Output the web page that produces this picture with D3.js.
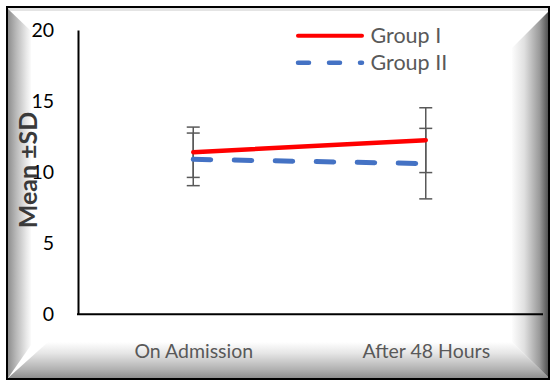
<!DOCTYPE html>
<html><head><meta charset="utf-8">
<script src="https://cdn.jsdelivr.net/npm/d3@7"></script>
<style>html,body{margin:0;padding:0;background:#fff;}svg{display:block;}</style>
</head><body>
<script>
const categories = ["On Admission", "After 48 Hours"];
const seriesNames = ["Group I", "Group II"];
const groupIMean = [11.4, 12.25];
const groupISD = [1.77, 2.28];
const groupIIMean = [10.9, 10.6];
const groupIISD = [1.85, 2.48];
const yTicks = [0, 5, 10, 15, 20];
const yTitle = "Mean \u00b1SD";

const W = 552, H = 381;
const svg = d3.select("body").append("svg").attr("width", W).attr("height", H);
const defs = svg.append("defs");

function lg(id, x1, y1, x2, y2, stops) {
  const g = defs.append("linearGradient").attr("id", id)
    .attr("gradientUnits", "userSpaceOnUse")
    .attr("x1", x1).attr("y1", y1).attr("x2", x2).attr("y2", y2);
  stops.forEach(s => g.append("stop").attr("offset", s[0]).attr("stop-color", s[1]));
}
// frame / bevel
lg("gl", 8, 0, 31, 0, [[0, "#8e8e8e"], [0.35, "#b8b8b8"], [0.8, "#e8e8e8"], [1, "#fbfbfb"]]);
lg("gb", 0, 342, 0, 379, [[0, "#ffffff"], [0.3, "#e6e6e6"], [0.75, "#b0b0b0"], [1, "#8a8a8a"]]);
lg("gr", 511, 0, 549, 0, [[0, "#ffffff"], [0.35, "#e0e0e0"], [0.75, "#9a9a9a"], [1, "#4a4a4a"]]);

svg.append("rect").attr("x", 7).attr("y", 7).attr("width", 542).attr("height", 372).attr("fill", "#fff");
svg.append("polygon").attr("points", "8,8 549,8 549,11 8,11").attr("fill", "#e4e4e4");
svg.append("polygon").attr("points", "8,9 31,31 31,345 8,378").attr("fill", "url(#gl)");
svg.append("polygon").attr("points", "8,378 48,342 512,342 549,378").attr("fill", "url(#gb)");
svg.append("polygon").attr("points", "549,11 549,378 512,342 512,48").attr("fill", "url(#gr)");
svg.append("rect").attr("x", 7).attr("y", 7).attr("width", 542).attr("height", 372)
  .attr("fill", "none").attr("stroke", "#000").attr("stroke-width", 2);

const x = d3.scalePoint().domain(categories).range([77, 542]).padding(0.5);
const y = d3.scaleLinear().domain([0, 20]).range([314.3, 30]);

const font = "Lato, 'Open Sans', sans-serif";

// y axis
const yAxis = d3.axisLeft(y).tickValues(yTicks).tickSize(0).tickPadding(24).tickFormat(d3.format("d"));
const gy = svg.append("g").attr("transform", "translate(78,0)").call(yAxis);
gy.select(".domain").attr("stroke", "#000").attr("stroke-width", 2);
gy.selectAll("text").attr("font-family", font).attr("font-size", "19.5px").attr("fill", "#000");

// x axis
const gx = svg.append("g").attr("transform", `translate(0,${y(0)})`)
  .call(d3.axisBottom(x).tickSize(0).tickPadding(30));
gx.select(".domain").attr("d", "M77,0H543").attr("stroke", "#000").attr("stroke-width", 2);
gx.selectAll("text").attr("font-family", font).attr("font-size", "19.5px").attr("fill", "#595959");

// y title
svg.append("text").attr("transform", `translate(37,${(113 + 227) / 2}) rotate(-90)`)
  .attr("text-anchor", "middle").attr("font-family", font).attr("font-weight", "bold")
  .attr("font-size", "25px").attr("fill", "#3a3a3a").text(yTitle);

// error bars
const series = [
  {name: seriesNames[0], mean: groupIMean, sd: groupISD},
  {name: seriesNames[1], mean: groupIIMean, sd: groupIISD}
];
const eb = svg.append("g").attr("stroke", "#595959").attr("stroke-width", 1.5).attr("fill", "none");
series.forEach(s => {
  categories.forEach((c, i) => {
    const cx = x(c), hi = y(s.mean[i] + s.sd[i]), lo = y(s.mean[i] - s.sd[i]);
    eb.append("line").attr("x1", cx).attr("x2", cx).attr("y1", hi).attr("y2", lo);
    eb.append("line").attr("x1", cx - 6.5).attr("x2", cx + 6.5).attr("y1", hi).attr("y2", hi);
    eb.append("line").attr("x1", cx - 6.5).attr("x2", cx + 6.5).attr("y1", lo).attr("y2", lo);
  });
});

// lines
const line = d3.line().x((d, i) => x(categories[i])).y(d => y(d));
svg.append("path").datum(groupIIMean).attr("d", line).attr("fill", "none")
  .attr("stroke", "#4472c4").attr("stroke-width", 5).attr("stroke-linecap", "round")
  .attr("stroke-dasharray", "17.5 23.5");
svg.append("path").datum(groupIMean).attr("d", line).attr("fill", "none")
  .attr("stroke", "#ff0000").attr("stroke-width", 4.5).attr("stroke-linecap", "round");

// legend
const leg = svg.append("g");
const legendItems = [
  {name: seriesNames[0], color: "#ff0000", dash: null, w: 4},
  {name: seriesNames[1], color: "#4472c4", dash: "11 20", w: 4.5}
];
legendItems.forEach((d, i) => {
  const ly = 35.7 + i * 27;
  leg.append("line").attr("x1", 298).attr("x2", 362).attr("y1", ly).attr("y2", ly)
    .attr("stroke", d.color).attr("stroke-width", d.w).attr("stroke-linecap", "round")
    .attr("stroke-dasharray", d.dash);
  leg.append("text").attr("x", 370.5).attr("y", ly).attr("dy", "0.35em")
    .attr("font-family", font).attr("font-size", "21.5px").attr("fill", "#595959").text(d.name);
});
</script>
</body></html>
